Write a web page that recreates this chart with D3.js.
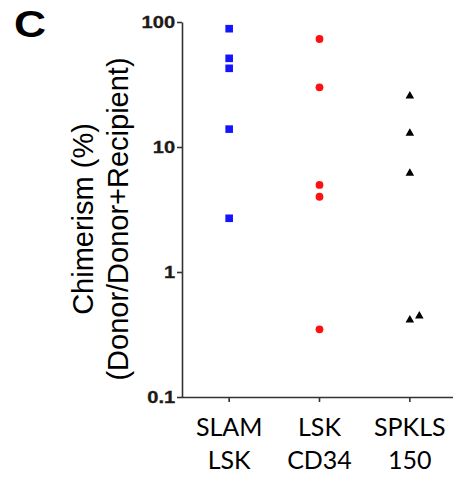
<!DOCTYPE html>
<html>
<head>
<meta charset="utf-8">
<script src="https://cdn.jsdelivr.net/npm/d3@7"></script>
<style>
  html, body { margin: 0; padding: 0; background: #fff; }
  svg { display: block; }
</style>
</head>
<body>
<svg id="chart" width="458" height="483"></svg>
<script>
// Groups and their per-animal chimerism values (%)
const categories = ["SLAM LSK", "LSK CD34", "SPKLS 150"];
const slamLsk = [88.4, 51.2, 42.6, 13.9, 2.69];
const lskCd34 = [73.1, 30.0, 4.97, 4.0, 0.348];
const spkls150 = [25.6, 12.9, 6.16, 0.413, 0.445];
const yTicks = [0.1, 1, 10, 100];
const yTickLabels = ["0.1", "1", "10", "100"];
const panelLabel = "C";
const yTitleLines = ["Chimerism (%)", "(Donor/Donor+Recipient)"];

const seriesList = [
  { name: categories[0], values: slamLsk, shape: "square", color: "#1414ff" },
  { name: categories[1], values: lskCd34, shape: "circle", color: "#ff1010" },
  { name: categories[2], values: spkls150, shape: "triangle", color: "#000000" }
];

const svg = d3.select("#chart");
const plot = { left: 182, right: 453, top: 22, bottom: 397 };

const x = d3.scaleBand().domain(categories).range([plot.left + 2, plot.right + 2]).padding(0);
const y = d3.scaleLog().domain([0.1, 100]).range([plot.bottom, plot.top]);

// Panel letter
svg.append("text")
  .attr("transform", "translate(14,37) scale(1.2,1)")
  .attr("font-family", "Liberation Sans, Arial, sans-serif")
  .attr("font-weight", "bold")
  .attr("font-size", 37)
  .attr("fill", "#000")
  .text(panelLabel);

// Y axis
const yAxis = d3.axisLeft(y)
  .tickValues(yTicks)
  .tickFormat((d, i) => yTickLabels[i])
  .tickSize(5)
  .tickSizeOuter(0);

const gy = svg.append("g")
  .attr("transform", `translate(${plot.left},0)`)
  .call(yAxis);
gy.select(".domain").attr("stroke", "#333").attr("stroke-width", 1.6);
gy.selectAll(".tick line").attr("stroke", "#333").attr("stroke-width", 1.6);
gy.selectAll(".tick text")
  .attr("x", -5.6)
  .attr("transform", "scale(1.22,1)")
  .attr("font-family", "Liberation Sans, Arial, sans-serif")
  .attr("font-weight", "bold")
  .attr("font-size", 16.5)
  .attr("stroke", "#1e1a16")
  .attr("stroke-width", 0.3)
  .attr("fill", "#1e1a16");

// X axis
const xAxis = d3.axisBottom(x).tickSize(5).tickSizeOuter(0).tickFormat("");
const gx = svg.append("g")
  .attr("transform", `translate(0,${plot.bottom})`)
  .call(xAxis);
gx.select(".domain").attr("d", `M${plot.left},0.5H${plot.right}`)
  .attr("stroke", "#333").attr("stroke-width", 1.6);
gx.selectAll(".tick line").attr("stroke", "#333").attr("stroke-width", 1.6);

// Category labels, two lines each
const catLabels = svg.append("g")
  .selectAll("text")
  .data(categories)
  .join("text")
  .attr("text-anchor", "middle")
  .attr("font-family", "Lato, 'Open Sans', sans-serif")
  .attr("font-size", 25)
  .attr("fill", "#000");
catLabels.each(function (d) {
  const parts = d.split(" ");
  const cx = x(d) + x.bandwidth() / 2;
  d3.select(this).selectAll("tspan")
    .data(parts)
    .join("tspan")
    .attr("x", cx)
    .attr("y", (p, i) => 436 + i * 33)
    .text(p => p);
});

// Y axis title
const yTitle = svg.append("text")
  .attr("transform", "translate(93,219) rotate(-90)")
  .attr("text-anchor", "middle")
  .attr("font-family", "Liberation Sans, Arial, sans-serif")
  .attr("font-size", 29)
  .attr("fill", "#000");
yTitle.selectAll("tspan")
  .data(yTitleLines)
  .join("tspan")
  .attr("x", 0)
  .attr("y", (d, i) => i * 35)
  .text(d => d);

// Scatter points; markers that would overlap vertically are nudged sideways
const markerSize = 8;
const pointsG = svg.append("g");
seriesList.forEach(s => {
  const cx = x(s.name) + x.bandwidth() / 2;
  const placed = [];
  s.values.forEach(v => {
    const py = y(v);
    let px = cx;
    while (placed.some(p => Math.abs(p.x - px) < markerSize && Math.abs(p.y - py) < markerSize)) {
      px += markerSize + 1.5;
    }
    placed.push({ x: px, y: py });
    if (s.shape === "square") {
      pointsG.append("rect")
        .attr("x", px - 3.8).attr("y", py - 3.8)
        .attr("width", 7.6).attr("height", 7.6)
        .attr("fill", s.color);
    } else if (s.shape === "circle") {
      pointsG.append("circle")
        .attr("cx", px).attr("cy", py).attr("r", 3.9)
        .attr("fill", s.color);
    } else {
      const tri = d3.symbol().type(d3.symbolTriangle).size(32);
      pointsG.append("path")
        .attr("d", tri())
        .attr("transform", `translate(${px},${py})`)
        .attr("fill", s.color);
    }
  });
});
</script>
</body>
</html>
